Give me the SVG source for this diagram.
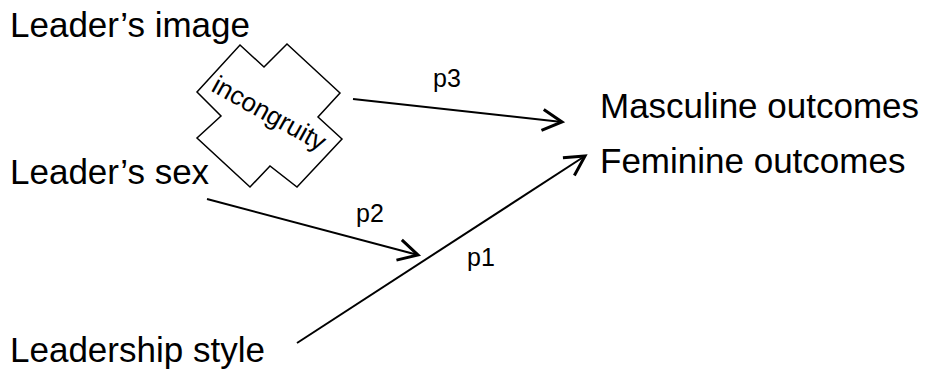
<svg xmlns="http://www.w3.org/2000/svg" width="927" height="370" viewBox="0 0 927 370">
<style>
.lbl{font-family:"Liberation Sans",Arial,sans-serif;font-size:35px;fill:#000}
.p{font-family:"Liberation Sans",Arial,sans-serif;font-size:25px;fill:#000}
.ed{stroke:#000;stroke-width:2;fill:none;marker-end:url(#ah)}
</style>
<defs>
<marker id="ah" markerUnits="userSpaceOnUse" markerWidth="30" markerHeight="30" viewBox="-16 -10 20 20" refX="0" refY="0" orient="auto" overflow="visible">
<path d="M-13,-7 L0,0 L-13,7" fill="none" stroke="#000" stroke-width="2"/>
</marker>
</defs>
<rect width="927" height="370" fill="#fff"/>
<g id="leader-image"><text class="lbl" x="10" y="37">Leader’s image</text></g>
<g id="leader-sex"><text class="lbl" x="10" y="184">Leader’s sex</text></g>
<g id="leadership-style"><text class="lbl" x="10" y="362">Leadership style</text></g>
<g id="masculine"><text class="lbl" x="600" y="118">Masculine outcomes</text></g>
<g id="feminine"><text class="lbl" x="600" y="173">Feminine outcomes</text></g>
<g id="incongruity">
<polygon points="240,45 264,67 287,44 340,93 318,117 342,139 297,187 270,166 250,187 197,138 221,116 197,92" fill="#fff" stroke="#000" stroke-width="1.5"/>
<text x="265" y="121" text-anchor="middle" transform="rotate(29 265 121)" style="font-family:'Liberation Sans',Arial,sans-serif;font-size:26px;fill:#000">incongruity</text>
</g>
<g id="connectors">
<line class="ed" x1="353" y1="99" x2="562" y2="122"/>
<line class="ed" x1="207" y1="199" x2="418" y2="255"/>
<line class="ed" x1="297" y1="343" x2="585" y2="156"/>
<text class="p" x="433" y="87">p3</text>
<text class="p" x="356" y="222">p2</text>
<text class="p" x="467" y="266">p1</text>
</g>
</svg>
